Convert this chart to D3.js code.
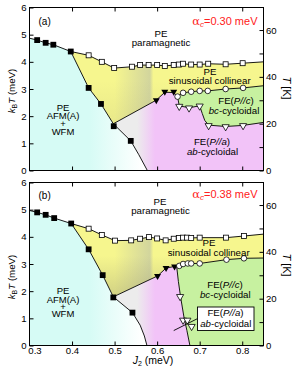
<!DOCTYPE html>
<html><head><meta charset="utf-8">
<script src="https://cdn.jsdelivr.net/npm/d3@7"></script>
<style>body{margin:0;background:#fff}svg{display:block}text{font-family:"Liberation Sans",Arial,sans-serif}</style>
</head><body>
<svg id="c" width="292" height="368"></svg>
<script>
// ---------- axis ticks ----------
const xTicks = [0.3, 0.4, 0.5, 0.6, 0.7, 0.8];
const xInnerTicks = [0.4, 0.5, 0.6, 0.7, 0.8];
const yTicks = [0, 1, 2, 3, 4, 5, 6];
const tTicks = [0, 10, 20, 30, 40, 50, 60];
const tLabels = [0, 20, 40, 60];
const KPERMEV = 11.6045;

// ---------- panel (a) alpha_c = 0.30 meV ----------
const afmUpperA = [[0.3,4.87],[0.318,4.80],[0.338,4.70],[0.356,4.63],[0.397,4.38],[0.439,3.04],[0.468,2.45],[0.497,1.72]];
const afmLowerA = [[0.497,1.72],[0.538,1.09],[0.557,0.58],[0.577,0]];
const topA = [[0.397,4.38],[0.439,4.24],[0.47,4.0],[0.499,3.77],[0.541,3.82],[0.56,3.88],[0.58,3.88],[0.60,3.88],[0.618,3.85],[0.639,3.88],[0.651,3.9],[0.661,3.93],[0.68,3.9],[0.70,3.9],[0.72,3.93],[0.761,3.91],[0.801,3.95],[0.85,4.0]];
const pinkTopA = [[0.497,1.72],[0.598,2.59],[0.618,2.88],[0.639,2.87],[0.648,2.72]];
const greenTopA = [[0.648,2.72],[0.661,2.86],[0.68,2.9],[0.70,2.93],[0.719,2.93],[0.761,3.0],[0.802,3.04],[0.85,3.12]];
const greenBottomA = [[0.648,2.72],[0.652,2.38],[0.675,2.31],[0.70,2.38],[0.706,2.1],[0.712,1.84],[0.721,1.67],[0.761,1.62],[0.802,1.66],[0.85,1.77]];
const filledSqA = [[0.318,4.80],[0.338,4.70],[0.356,4.63],[0.397,4.38],[0.439,3.04],[0.468,2.45],[0.498,1.63],[0.538,1.09]];
const openSqA = [[0.439,4.24],[0.47,4.0],[0.499,3.77],[0.541,3.82],[0.56,3.88],[0.58,3.88],[0.60,3.88],[0.618,3.85],[0.639,3.88],[0.651,3.9],[0.661,3.93],[0.68,3.9],[0.70,3.9],[0.72,3.93],[0.761,3.91],[0.801,3.95]];
const filledTriA = [[0.598,2.59],[0.618,2.9],[0.639,2.9]];
const openCircA = [[0.648,2.72],[0.661,2.86],[0.68,2.9],[0.70,2.93],[0.719,2.93],[0.761,3.0],[0.802,3.04]];
const openTriA = [[0.652,2.36],[0.675,2.30],[0.70,2.37],[0.721,1.65],[0.761,1.61],[0.802,1.65]];

// ---------- panel (b) alpha_c = 0.38 meV ----------
const afmUpperB = [[0.3,4.97],[0.318,4.90],[0.338,4.81],[0.358,4.69],[0.398,4.49],[0.439,3.54],[0.472,2.59],[0.497,1.79]];
const afmLowerB = [[0.497,1.79],[0.542,1.21],[0.56,0.75],[0.57,0.35],[0.576,0]];
const topB = [[0.398,4.49],[0.439,4.30],[0.47,4.07],[0.501,3.86],[0.539,3.87],[0.56,3.93],[0.581,3.99],[0.60,3.94],[0.62,3.87],[0.639,3.93],[0.651,3.96],[0.661,3.97],[0.67,3.97],[0.68,3.96],[0.70,3.97],[0.762,3.97],[0.804,4.03],[0.85,4.1]];
const pinkTopB = [[0.497,1.79],[0.601,2.56],[0.621,2.85],[0.641,2.91],[0.646,2.9]];
const greenTopB = [[0.646,2.9],[0.652,2.93],[0.661,3.0],[0.672,3.02],[0.68,3.02],[0.70,3.02],[0.763,3.16],[0.804,3.21],[0.85,3.22]];
const greenBottomB = [[0.646,2.9],[0.65,2.35],[0.655,1.8],[0.663,1.05],[0.67,0.55],[0.677,0]];
const filledSqB = [[0.318,4.90],[0.338,4.81],[0.358,4.69],[0.398,4.49],[0.439,3.54],[0.472,2.59],[0.497,1.77],[0.542,1.21]];
const openSqB = [[0.439,4.30],[0.47,4.07],[0.501,3.86],[0.539,3.87],[0.56,3.93],[0.581,3.99],[0.60,3.94],[0.62,3.87],[0.639,3.93],[0.651,3.96],[0.661,3.97],[0.67,3.97],[0.68,3.96],[0.70,3.97],[0.762,3.97],[0.804,4.03]];
const filledTriB = [[0.601,2.56],[0.621,2.85],[0.641,2.91]];
const openCircB = [[0.652,2.93],[0.661,3.0],[0.672,3.02],[0.68,3.02],[0.70,3.02],[0.763,3.16],[0.804,3.21]];
const openTriB = [[0.654,1.8],[0.661,0.93],[0.671,0.93],[0.681,0.7]];
const leaderB = [[0.639,0.55],[0.695,0.99]];

// ---------- drawing ----------
const svg = d3.select("#c");
const x = d3.scaleLinear([0.3, 0.85], [29.5, 263.5]);
const defs = svg.append("defs");
function grad(id, stops) {
  const g = defs.append("linearGradient").attr("id", id)
    .attr("gradientUnits", "userSpaceOnUse").attr("x1", 0).attr("x2", 292).attr("y1", 0).attr("y2", 0);
  stops.forEach(([v, c]) => g.append("stop").attr("offset", x(v) / 292).attr("stop-color", c));
}
grad("gCyan", [[0.44, "#d6fbf5"], [0.565, "#ffffff"]]);
grad("gYel", [[0.50, "#f6f68e"], [0.583, "#d2d59d"], [0.591, "#f6f68e"]]);
grad("gPink", [[0.553, "#ececec"], [0.595, "#f2c3f8"]]);
const GREEN = "#c7f1a0";

function fillParts(t, parts) {
  parts.forEach(p => {
    const s = t.append("tspan").text(p[0]);
    if (p[1]) s.attr("font-style", "italic");
    if (p[2]) s.attr("dy", p[2]);
    if (p[3]) s.attr("font-size", p[3]);
    if (p[4]) s.attr("font-family", p[4]);
  });
}
function txt(g, px, py, parts, o = {}) {
  const t = g.append("text").attr("x", px).attr("y", py)
    .attr("font-size", o.size || 9.7).attr("text-anchor", o.anchor || "middle")
    .attr("fill", o.fill || "#000");
  if (o.transform) t.attr("transform", o.transform);
  fillParts(t, parts);
  return t;
}
// multi-line block: one text element, one positioned tspan per line
function block(g, lines, size) {
  const t = g.append("text").attr("font-size", size || 9.7).attr("text-anchor", "middle").attr("fill", "#000");
  lines.forEach(([px, py, parts]) => {
    const l = t.append("tspan").attr("x", px).attr("y", py);
    fillParts(l, parts);
  });
  return t;
}

function drawPanel(p) {
  const y = d3.scaleLinear([0, 6], [p.bottom, p.top]);
  const tS = d3.scaleLinear([0, 6 * KPERMEV], [p.bottom, p.top]);
  const g = svg.append("g");
  const line = d3.line().x(d => x(d[0])).y(d => y(d[1]));
  const rev = a => a.slice().reverse();
  const afmDesc = p.afmUpper.filter(d => d[0] >= p.top_[0][0]);
  const gbLast = p.greenBottom[p.greenBottom.length - 1];
  const id = "sh" + p.tag.replace(/\W/g, "");

  // olive shading of the yellow region near the junction
  const sh = defs.append("linearGradient").attr("id", id)
    .attr("gradientUnits", "userSpaceOnUse").attr("x1", 0).attr("x2", 0)
    .attr("y1", y(3.3)).attr("y2", y(1.8));
  sh.append("stop").attr("offset", 0).attr("stop-color", "#8c8c70").attr("stop-opacity", 0);
  sh.append("stop").attr("offset", 1).attr("stop-color", "#8c8c70").attr("stop-opacity", p.shade);

  // yellow region
  const yelD = line([...p.top_, ...rev(p.greenTop), ...rev(p.pinkTop), ...rev(afmDesc)]) + "Z";
  g.append("path").attr("fill", "url(#gYel)").attr("d", yelD);
  g.append("path").attr("fill", `url(#${id})`).attr("d", yelD);
  // pink/gray region
  const pinkPoly = [...p.pinkTop, ...p.greenBottom.slice(1)];
  if (gbLast[1] > 0) pinkPoly.push([0.85, 0]);
  pinkPoly.push(...rev(p.afmLower));
  g.append("path").attr("fill", "url(#gPink)").attr("d", line(pinkPoly) + "Z");
  // green region
  const greenPoly = [...p.greenTop];
  if (gbLast[1] === 0) greenPoly.push([0.85, 0]);
  greenPoly.push(...rev(p.greenBottom));
  g.append("path").attr("fill", GREEN).attr("d", line(greenPoly) + "Z");
  // cyan region
  g.append("path").attr("fill", "url(#gCyan)")
    .attr("d", line([[0.3, 0], ...p.afmUpper, ...p.afmLower.slice(1)]) + "Z");

  // boundary lines
  const lines = [[...p.afmUpper, ...p.afmLower.slice(1)], p.top_, p.pinkTop, p.greenTop, p.greenBottom];
  lines.forEach(l => g.append("path").attr("d", line(l)).attr("fill", "none")
    .attr("stroke", "#000").attr("stroke-width", 0.9));

  // markers
  g.selectAll(null).data(p.filledSq).join("rect")
    .attr("x", d => x(d[0]) - 2.9).attr("y", d => y(d[1]) - 2.9).attr("width", 5.8).attr("height", 5.8).attr("fill", "#000");
  g.selectAll(null).data(p.openSq).join("rect")
    .attr("x", d => x(d[0]) - 2.5).attr("y", d => y(d[1]) - 2.5).attr("width", 5).attr("height", 5)
    .attr("fill", "#fff").attr("stroke", "#000").attr("stroke-width", 0.8);
  const tri = d3.symbol(d3.symbolTriangle, 21)();
  g.selectAll(null).data(p.filledTri).join("path").attr("d", tri)
    .attr("transform", d => `translate(${x(d[0])},${y(d[1])}) rotate(180)`).attr("fill", "#000");
  g.selectAll(null).data(p.openCirc).join("circle")
    .attr("cx", d => x(d[0])).attr("cy", d => y(d[1])).attr("r", 2.8)
    .attr("fill", "#fff").attr("stroke", "#000").attr("stroke-width", 0.8);
  g.selectAll(null).data(p.openTri).join("path").attr("d", d3.symbol(d3.symbolTriangle, 22)())
    .attr("transform", d => `translate(${x(d[0])},${y(d[1])}) rotate(180)`)
    .attr("fill", "#fff").attr("stroke", "#000").attr("stroke-width", 0.8);

  // frame
  g.append("rect").attr("x", x(0.3)).attr("y", p.top).attr("width", x(0.85) - x(0.3)).attr("height", p.bottom - p.top)
    .attr("fill", "none").attr("stroke", "#000").attr("stroke-width", 1);

  // axes
  const styleAx = a => { a.select(".domain").remove(); a.attr("font-family", null).attr("font-size", 9.6);
    a.selectAll("line").attr("stroke", "#000"); a.selectAll("text").attr("fill", "#000"); };
  g.append("g").attr("transform", `translate(${x(0.3)},0)`)
    .call(d3.axisLeft(y).tickValues(yTicks).tickSize(-4).tickPadding(3).tickFormat(d3.format("d"))).call(styleAx);
  g.append("g").attr("transform", `translate(${x(0.85)},0)`)
    .call(d3.axisRight(tS).tickValues(tTicks).tickSize(-4).tickPadding(2.5)
      .tickFormat(d => tLabels.includes(d) ? d : "")).call(styleAx);
  g.append("g").attr("transform", `translate(0,${p.top})`)
    .call(d3.axisTop(x).tickValues(xInnerTicks).tickSize(-4).tickFormat("")).call(styleAx);
  const bx = g.append("g").attr("transform", `translate(0,${p.bottom})`)
    .call(d3.axisBottom(x).tickValues(p.showX ? xTicks : xInnerTicks).tickSize(-4).tickPadding(1.5)
      .tickFormat(p.showX ? d3.format(".1f") : "")).call(styleAx);
  if (p.showX) bx.selectAll(".tick").filter(d => d === 0.3).select("text").attr("x", 5);
  bx.selectAll(".tick").filter(d => d === 0.3).select("line").remove();

  // axis titles
  txt(g, 0, 0, [["k", true], ["B", false, 2, 7], ["T", true, -2], [" (meV)"]],
    { size: 9.7, transform: `translate(14.5,${p.yLabelC}) rotate(-90)` });
  txt(g, 0, 0, [["T", true], [" [K]"]], { size: 11, transform: `translate(282.5,${p.tLabelC}) rotate(90)` });

  // panel texts
  txt(g, 38.5, p.tagY, [[p.tag]], { anchor: "start", size: 10 });
  txt(g, 257.5, p.alphaY, [["α", false, 0, 11.5, "DejaVu Serif"], ["c", true, 2, 8], ["=" + p.alpha + " meV", false, -2]],
    { anchor: "end", size: 11, fill: "#ff2020" });
  p.blocks.forEach(b => block(g, b.lines, b.size));
  return { g, y };
}

const pa = drawPanel({
  top: 7.5, bottom: 170.5, top_: topA, afmUpper: afmUpperA, afmLower: afmLowerA, pinkTop: pinkTopA,
  greenTop: greenTopA, greenBottom: greenBottomA, filledSq: filledSqA, openSq: openSqA,
  filledTri: filledTriA, openCirc: openCircA, openTri: openTriA, showX: false, shade: 0.12,
  yLabelC: 91, tLabelC: 88, tag: "(a)", tagY: 24.5, alpha: "0.30", alphaY: 25,
  blocks: [
    { lines: [[161, 37, [["PE"]]], [161, 45.5, [["paramagnetic"]]]] },
    { lines: [[210, 75, [["PE"]]], [209.7, 84, [["sinusoidal collinear"]]]] },
    { lines: [[236, 103.5, [["FE("], ["P//c", true], [")"]]], [234, 114, [["bc", true], ["-cycloidal"]]]] },
    { lines: [[212, 144.5, [["FE("], ["P//a", true], [")"]]], [212.5, 155, [["ab", true], ["-cycloidal"]]]] },
    { size: 9.5, lines: [[63, 110.5, [["PE"]]], [63, 119, [["AFM(A)"]]], [63, 126.5, [["+"]]], [63, 135, [["WFM"]]]] }
  ]
});

const pb = drawPanel({
  top: 182.5, bottom: 345.5, top_: topB, afmUpper: afmUpperB, afmLower: afmLowerB, pinkTop: pinkTopB,
  greenTop: greenTopB, greenBottom: greenBottomB, filledSq: filledSqB, openSq: openSqB,
  filledTri: filledTriB, openCirc: openCircB, openTri: openTriB, showX: true, shade: 0.35,
  yLabelC: 277, tLabelC: 265, tag: "(b)", tagY: 199, alpha: "0.38", alphaY: 197.5,
  blocks: [
    { lines: [[160, 205, [["PE"]]], [160.5, 214, [["paramagnetic"]]]] },
    { lines: [[209, 246.3, [["PE"]]], [208.7, 255.6, [["sinusoidal collinear"]]]] },
    { lines: [[225, 287.5, [["FE("], ["P//c", true], [")"]]], [225.3, 297.5, [["bc", true], ["-cycloidal"]]]] },
    { size: 9.5, lines: [[63, 294.3, [["PE"]]], [63, 302.5, [["AFM(A)"]]], [63, 309.8, [["+"]]], [63, 317, [["WFM"]]]] }
  ]
});

// leader line and label box in panel (b)
const lineB = d3.line().x(d => x(d[0])).y(d => pb.y(d[1]));
pb.g.append("path").attr("d", lineB(leaderB)).attr("stroke", "#000").attr("stroke-width", 0.9).attr("fill", "none");
pb.g.append("rect").attr("x", 197.5).attr("y", 307).attr("width", 56.5).attr("height", 23.5)
  .attr("fill", "#fff").attr("stroke", "#000").attr("stroke-width", 0.9);
block(pb.g, [[225.5, 316.3, [["FE("], ["P//a", true], [")"]]], [225.8, 326.5, [["ab", true], ["-cycloidal"]]]]);

// x-axis title
txt(svg, 153, 364, [["J", true], ["2", false, 2, 7], [" (meV)", false, -2]], { size: 10.5 });
</script>
</body></html>
